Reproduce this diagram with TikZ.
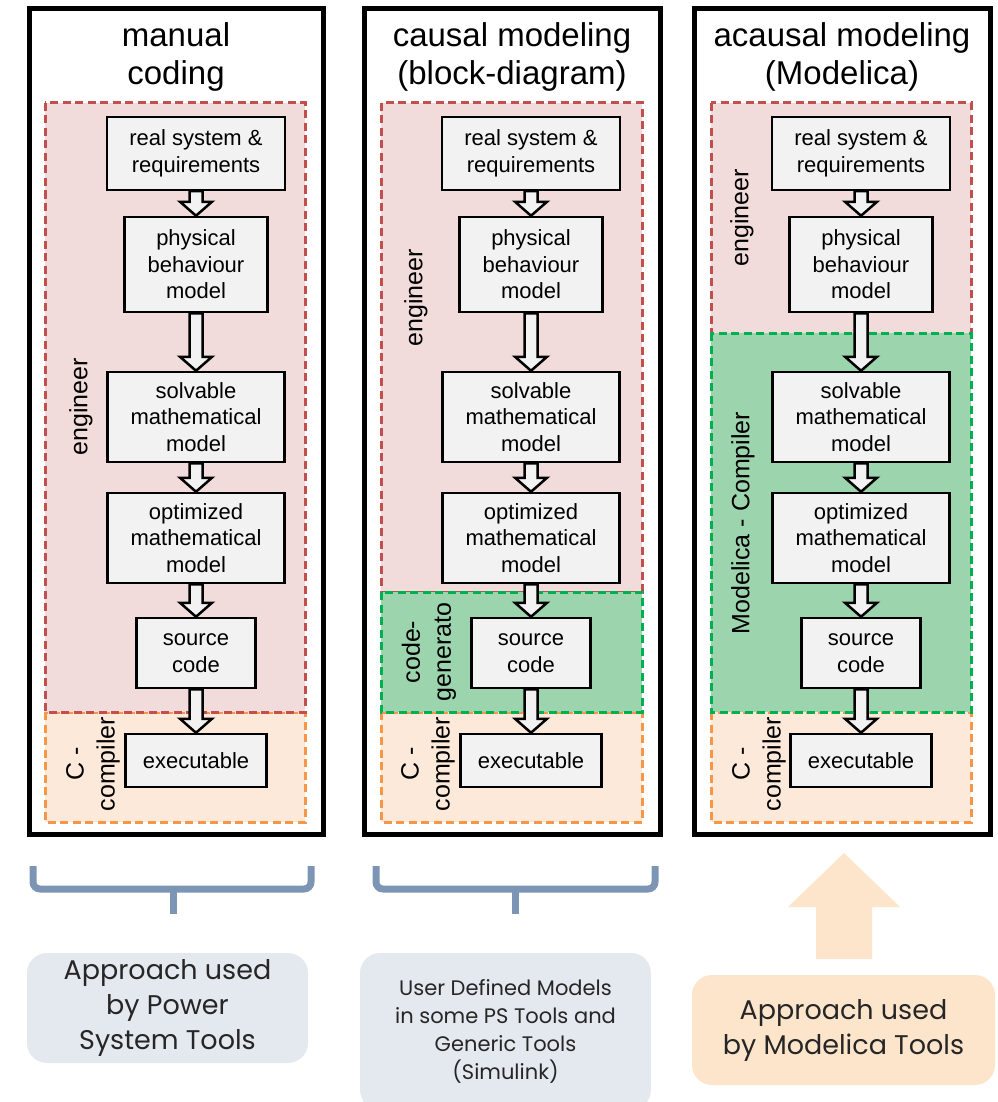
\documentclass[tikz,border=0pt]{standalone}
\usepackage{fontspec}
\setmainfont{Liberation Sans}
\newfontfamily\roundfont{Poppins}
\usetikzlibrary{calc}

\definecolor{boxgray}{RGB}{242,242,242}
\definecolor{redfill}{RGB}{242,220,219}
\definecolor{redline}{RGB}{192,80,77}
\definecolor{greenfill}{RGB}{155,212,173}
\definecolor{greenline}{RGB}{0,176,80}
\definecolor{orangefill}{RGB}{253,233,217}
\definecolor{orangeline}{RGB}{247,150,70}
\definecolor{slatebox}{RGB}{228,232,239}
\definecolor{bracketblue}{RGB}{125,149,181}
\definecolor{peach}{RGB}{253,229,203}

\tikzset{
  stage/.style={draw, line width=2.5pt, fill=boxgray, inner sep=0pt, align=center, font=\fontsize{22}{26.5}\selectfont},
  sidelabel/.style={rotate=90, align=center, font=\fontsize{25}{31}\selectfont},
  zone/.style={line width=3pt, dash pattern=on 8pt off 4.5pt},
  panel/.style={draw, line width=5pt},
  toolbox/.style={rounded corners=20pt, inner sep=0pt, align=center, text=black!85},
  brace/.style={draw=bracketblue, line width=7pt, rounded corners=7pt}
}

% hollow block arrow from one stage to the next
\newcommand{\flowarrow}[2]{%
  \draw[line width=2.5pt, fill=boxgray, line join=miter]
    ($(#1.south)+(-6.5,0)$) -- ($(#2.north)+(-6.5,-14)$) -- ($(#2.north)+(-16,-14)$) -- (#2.north)
    -- ($(#2.north)+(16,-14)$) -- ($(#2.north)+(6.5,-14)$) -- ($(#1.south)+(6.5,0)$) -- cycle;}

\begin{document}
\begin{tikzpicture}[x=1pt,y=-1pt]
\useasboundingbox (0,0) rectangle (997,1102);
\clip (0,0) rectangle (997,1102);

% panels
\draw[panel] (29,9) rectangle (323,834);
\draw[panel] (364,9) rectangle (660,834);
\draw[panel] (694,9) rectangle (990,834);

\node[font=\fontsize{33}{38}\selectfont, align=center] (title1) at (176,57) {manual\\coding};
\node[font=\fontsize{33}{38}\selectfont, align=center] (title2) at (512,57) {causal modeling\\(block-diagram)};
\node[font=\fontsize{33}{38}\selectfont, align=center] (title3) at (842,57) {acausal modeling\\(Modelica)};

% zones
\draw[zone, draw=orangeline, fill=orangefill] (45,712) rectangle (305,822);
\draw[zone, draw=redline, fill=redfill] (45,103) rectangle (305,712);
\draw[zone, draw=orangeline, fill=orangefill] (381,712) rectangle (642,822);
\draw[zone, draw=redline, fill=redfill] (381,103) rectangle (642,592);
\draw[zone, draw=greenline, fill=greenfill] (381,592) rectangle (642,712);
\draw[zone, draw=orangeline, fill=orangefill] (711,712) rectangle (971,822);
\draw[zone, draw=redline, fill=redfill] (711,103) rectangle (971,333);
\draw[zone, draw=greenline, fill=greenfill] (711,333) rectangle (971,712);

\node[sidelabel] (eng1) at (81,407) {engineer};
\node[sidelabel] (cc1) at (93,764) {C -\\compiler};
\node[sidelabel] (eng2) at (416,298) {engineer};
\node[sidelabel] (gen2) at (429,652) {code-\\generato};
\node[sidelabel] (cc2) at (428,764) {C -\\compiler};
\node[sidelabel] (eng3) at (742,218) {engineer};
\node[sidelabel] (mc3) at (743,523) {Modelica - Compiler};
\node[sidelabel] (cc3) at (759,764) {C -\\compiler};

% stages
\foreach \p/\dx in {1/0,2/335,3/665} {
  \node[stage, minimum width=178pt, minimum height=73pt] (real\p) at (196+\dx,153.5) {real system \&\\requirements};
  \node[stage, minimum width=143pt, minimum height=95pt] (phys\p) at (196+\dx,264.5) {physical\\behaviour\\model};
  \node[stage, minimum width=177pt, minimum height=90pt] (solv\p) at (196+\dx,417) {solvable\\mathematical\\model};
  \node[stage, minimum width=177pt, minimum height=90pt] (opt\p) at (196+\dx,538) {optimized\\mathematical\\model};
  \node[stage, minimum width=119pt, minimum height=70pt] (src\p) at (196+\dx,653) {source\\code};
  \node[stage, minimum width=141pt, minimum height=53pt] (exe\p) at (196+\dx,760.5) {executable};
  \flowarrow{real\p}{phys\p}
  \flowarrow{phys\p}{solv\p}
  \flowarrow{solv\p}{opt\p}
  \flowarrow{opt\p}{src\p}
  \flowarrow{src\p}{exe\p}
}

% brackets and arrow
\draw[brace] (33,866) -- (33,889) -- (311,889) -- (311,866);
\draw[brace] (173,889) -- (173,914);
\draw[brace] (376,866) -- (376,889) -- (655,889) -- (655,866);
\draw[brace] (515,889) -- (515,914);
\fill[peach] (816,959) -- (816,907) -- (788,907) -- (844,853) -- (900,907) -- (872,907) -- (872,959) -- cycle;

% tool boxes
\node[toolbox, fill=slatebox, minimum width=281pt, minimum height=110pt, font=\roundfont\fontsize{27}{35}\selectfont] (psTools) at (167.5,1008) {Approach used\\by Power\\System Tools};
\node[toolbox, fill=slatebox, minimum width=291pt, minimum height=157pt, font=\roundfont\fontsize{21}{28}\selectfont] (userTools) at (505.5,1031.5) {User Defined Models\\in some PS Tools and\\Generic Tools\\(Simulink)};
\node[toolbox, fill=peach, minimum width=303pt, minimum height=110pt, font=\roundfont\fontsize{27}{35}\selectfont] (modTools) at (843.5,1030) {Approach used\\by Modelica Tools};
\end{tikzpicture}
\end{document}
